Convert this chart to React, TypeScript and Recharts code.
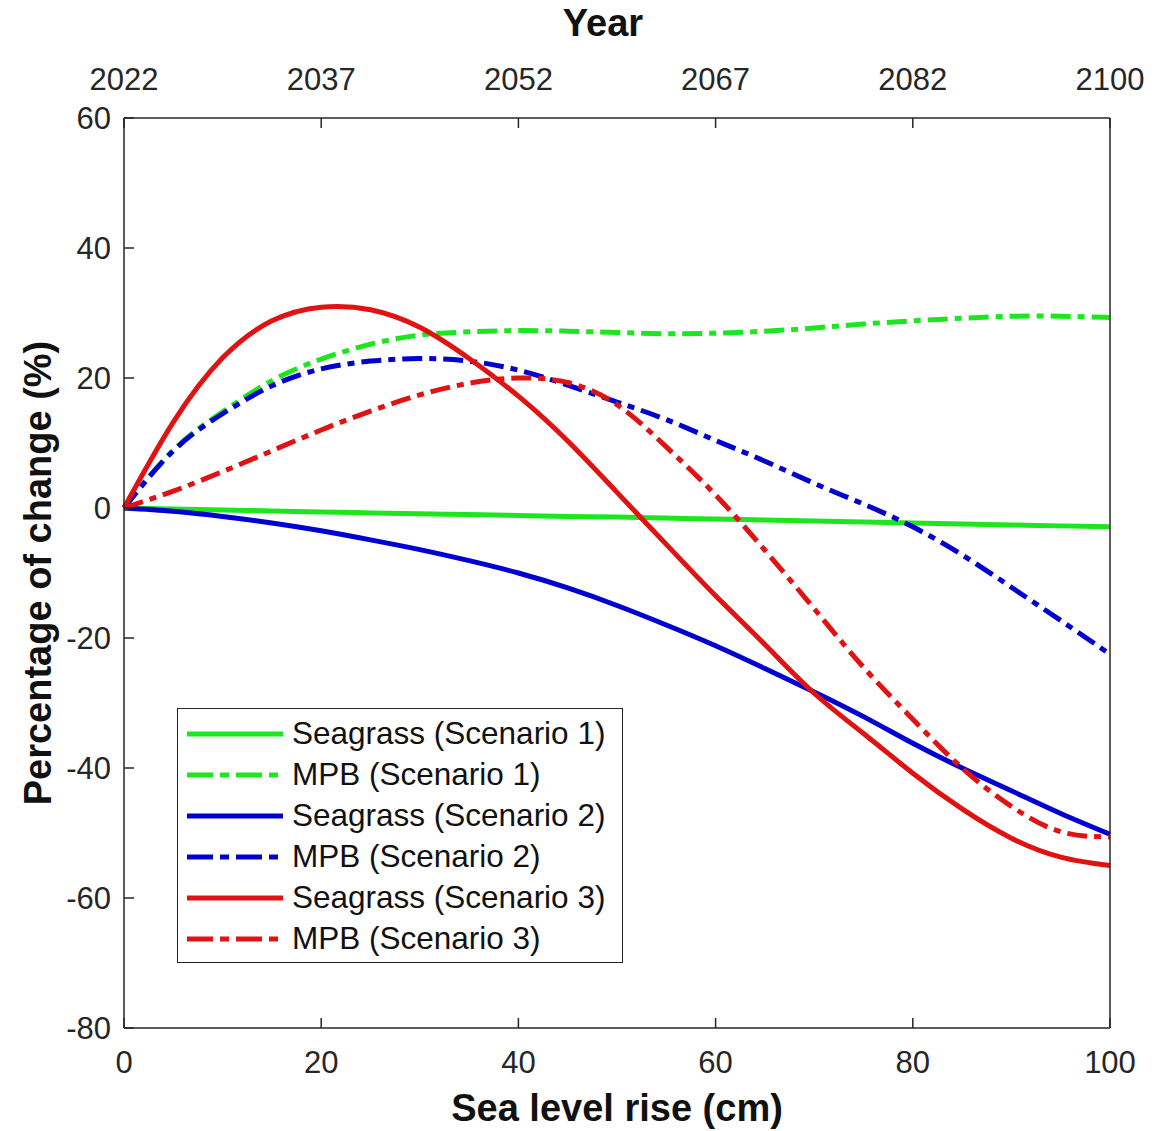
import React from 'react';
import { LineChart, Line, XAxis, YAxis, Label, Legend } from 'recharts';

// sea level rise (cm), sampled every 5 cm
const slr = [0, 5, 10, 15, 20, 25, 30, 35, 40, 45, 50, 55, 60, 65, 70, 75, 80, 85, 90, 95, 100];

const seagrass1 = [0, -0.15, -0.3, -0.45, -0.6, -0.75, -0.9, -1.0, -1.15, -1.3, -1.4, -1.55, -1.7, -1.85, -2.0, -2.15, -2.3, -2.45, -2.6, -2.75, -2.9];
const mpb1 = [0, 8.9, 14.8, 19.6, 22.9, 25.2, 26.6, 27.1, 27.3, 27.2, 27.0, 26.8, 26.9, 27.2, 27.7, 28.3, 28.8, 29.2, 29.5, 29.5, 29.3];
const seagrass2 = [0, -0.5, -1.3, -2.3, -3.5, -4.9, -6.4, -8.1, -10, -12.3, -15, -18, -21.2, -24.7, -28.3, -32.1, -36.2, -40, -43.5, -47, -50.2];
const mpb2 = [0, 8.8, 14.5, 18.8, 21.4, 22.6, 23, 22.6, 21.2, 18.9, 16.3, 13.6, 10.4, 7.2, 3.8, 0.6, -2.9, -7.2, -12.2, -17.3, -22.5];
const seagrass3 = [0, 13.2, 23.1, 28.8, 30.9, 30.5, 27.8, 23, 17.2, 10.3, 2.4, -5.6, -13.5, -21, -28.5, -34.7, -40.8, -46.3, -50.8, -53.7, -55];
const mpb3 = [0, 2.6, 5.6, 8.8, 12, 14.9, 17.4, 19.2, 20, 19.3, 15.9, 9.4, 2, -6.5, -15.5, -24.5, -32.5, -40, -45.9, -49.8, -50.6];

const xTicks = [0, 20, 40, 60, 80, 100];
const yearLabels = ['2022', '2037', '2052', '2067', '2082', '2100'];
const yTicks = [-80, -60, -40, -20, 0, 20, 40, 60];

const GREEN = '#1EE61E';
const BLUE = '#0000D0';
const RED = '#E01212';
const AXIS = '#262626';
const FONT = '"Liberation Sans", Arial, sans-serif';
const DASH = '20 7 7 7';

const series = [
  { key: 'seagrass1', name: 'Seagrass (Scenario 1)', color: GREEN, dashed: false },
  { key: 'mpb1', name: 'MPB (Scenario 1)', color: GREEN, dashed: true },
  { key: 'seagrass2', name: 'Seagrass (Scenario 2)', color: BLUE, dashed: false },
  { key: 'mpb2', name: 'MPB (Scenario 2)', color: BLUE, dashed: true },
  { key: 'seagrass3', name: 'Seagrass (Scenario 3)', color: RED, dashed: false },
  { key: 'mpb3', name: 'MPB (Scenario 3)', color: RED, dashed: true },
];

const chartData = slr.map((x, i) => ({
  slr: x,
  seagrass1: seagrass1[i],
  mpb1: mpb1[i],
  seagrass2: seagrass2[i],
  mpb2: mpb2[i],
  seagrass3: seagrass3[i],
  mpb3: mpb3[i],
}));

const TICK_LEN = 10;

function BottomTick(props: any) {
  const { x, y, payload } = props;
  return (
    <g>
      <line x1={x} y1={y} x2={x} y2={y - TICK_LEN} stroke={AXIS} strokeWidth={1.5} />
      <text x={x} y={y + 45} textAnchor="middle" fontFamily={FONT} fontSize={31} fill={AXIS}>
        {payload.value}
      </text>
    </g>
  );
}

function TopTick(props: any) {
  const { x, y, payload, index } = props;
  return (
    <g>
      <line x1={x} y1={y} x2={x} y2={y + TICK_LEN} stroke={AXIS} strokeWidth={1.5} />
      <text x={x} y={y - 28} textAnchor="middle" fontFamily={FONT} fontSize={31} fill={AXIS}>
        {yearLabels[index] ?? payload.value}
      </text>
    </g>
  );
}

function LeftTick(props: any) {
  const { x, y, payload } = props;
  return (
    <g>
      <line x1={x} y1={y} x2={x + TICK_LEN} y2={y} stroke={AXIS} strokeWidth={1.5} />
      <text x={x - 13} y={y + 11} textAnchor="end" fontFamily={FONT} fontSize={31} fill={AXIS}>
        {payload.value}
      </text>
    </g>
  );
}

function RightTick(props: any) {
  const { x, y } = props;
  return <line x1={x} y1={y} x2={x - TICK_LEN} y2={y} stroke={AXIS} strokeWidth={1.5} />;
}

function LegendBox() {
  return (
    <div
      style={{
        boxSizing: 'border-box',
        width: 446,
        height: 255,
        border: `1.5px solid ${AXIS}`,
        background: '#fff',
        paddingTop: 4,
        paddingLeft: 9,
      }}
    >
      {series.map((s) => (
        <div key={s.key} style={{ display: 'flex', alignItems: 'center', height: 41 }}>
          <svg width={96} height={10} style={{ display: 'block' }}>
            <line
              x1={0}
              y1={5}
              x2={96}
              y2={5}
              stroke={s.color}
              strokeWidth={5}
              strokeDasharray={s.dashed ? '26 7 9 7' : undefined}
            />
          </svg>
          <span
            style={{
              marginLeft: 9,
              fontFamily: FONT,
              fontSize: 31.5,
              color: '#111',
              lineHeight: '41px',
              whiteSpace: 'nowrap',
            }}
          >
            {s.name}
          </span>
        </div>
      ))}
    </div>
  );
}

export default function App() {
  return (
    <div style={{ position: 'absolute', left: 0, top: 0, background: '#fff' }}>
      <LineChart width={1158} height={1131} data={chartData} margin={{ top: 0, right: 0, bottom: 0, left: 0 }}>
        <XAxis
          xAxisId="bottom"
          dataKey="slr"
          type="number"
          domain={[0, 100]}
          ticks={xTicks}
          height={103}
          tickSize={0}
          tickMargin={0}
          tickLine={false}
          axisLine={{ stroke: AXIS, strokeWidth: 1.5 }}
          tick={<BottomTick />}
          interval={0}
        >
          <Label
            content={(p: any) => {
              const vb = p.viewBox;
              return (
                <text x={vb.x + vb.width / 2} y={vb.y + 93} textAnchor="middle" fontFamily={FONT} fontWeight="bold" fontSize={38} fill="#111">
                  Sea level rise (cm)
                </text>
              );
            }}
          />
        </XAxis>
        <XAxis
          xAxisId="top"
          orientation="top"
          dataKey="slr"
          type="number"
          domain={[0, 100]}
          ticks={xTicks}
          height={118}
          tickSize={0}
          tickMargin={0}
          tickLine={false}
          axisLine={{ stroke: AXIS, strokeWidth: 1.5 }}
          tick={<TopTick />}
          interval={0}
        >
          <Label
            content={(p: any) => {
              const vb = p.viewBox;
              return (
                <text x={vb.x + vb.width / 2 - 14} y={36} textAnchor="middle" fontFamily={FONT} fontWeight="bold" fontSize={38} fill="#111">
                  Year
                </text>
              );
            }}
          />
        </XAxis>
        <YAxis
          yAxisId="left"
          type="number"
          domain={[-80, 60]}
          ticks={yTicks}
          width={124}
          tickSize={0}
          tickMargin={0}
          tickLine={false}
          axisLine={{ stroke: AXIS, strokeWidth: 1.5 }}
          tick={<LeftTick />}
          interval={0}
        >
          <Label
            content={(p: any) => {
              const vb = p.viewBox;
              const cx = 38;
              const cy = vb.y + vb.height / 2;
              return (
                <text
                  x={cx}
                  y={cy}
                  transform={`rotate(-90 ${cx} ${cy})`}
                  textAnchor="middle"
                  dominantBaseline="central"
                  fontFamily={FONT}
                  fontWeight="bold"
                  fontSize={38}
                  fill="#111"
                >
                  Percentage of change (%)
                </text>
              );
            }}
          />
        </YAxis>
        <YAxis
          yAxisId="right"
          orientation="right"
          type="number"
          domain={[-80, 60]}
          ticks={yTicks}
          width={48}
          tickSize={0}
          tickMargin={0}
          tickLine={false}
          axisLine={{ stroke: AXIS, strokeWidth: 1.5 }}
          tick={<RightTick />}
          interval={0}
        />
        {series.map((s) => (
          <Line
            key={s.key}
            xAxisId="bottom"
            yAxisId="left"
            type="natural"
            dataKey={s.key}
            name={s.name}
            stroke={s.color}
            strokeWidth={5}
            strokeDasharray={s.dashed ? DASH : undefined}
            dot={false}
            activeDot={false}
            isAnimationActive={false}
          />
        ))}
        <Legend
          layout="vertical"
          align="center"
          verticalAlign="middle"
          content={() => <LegendBox />}
          wrapperStyle={{ left: 177, top: 708, width: 446, height: 255 }}
        />
      </LineChart>
    </div>
  );
}
